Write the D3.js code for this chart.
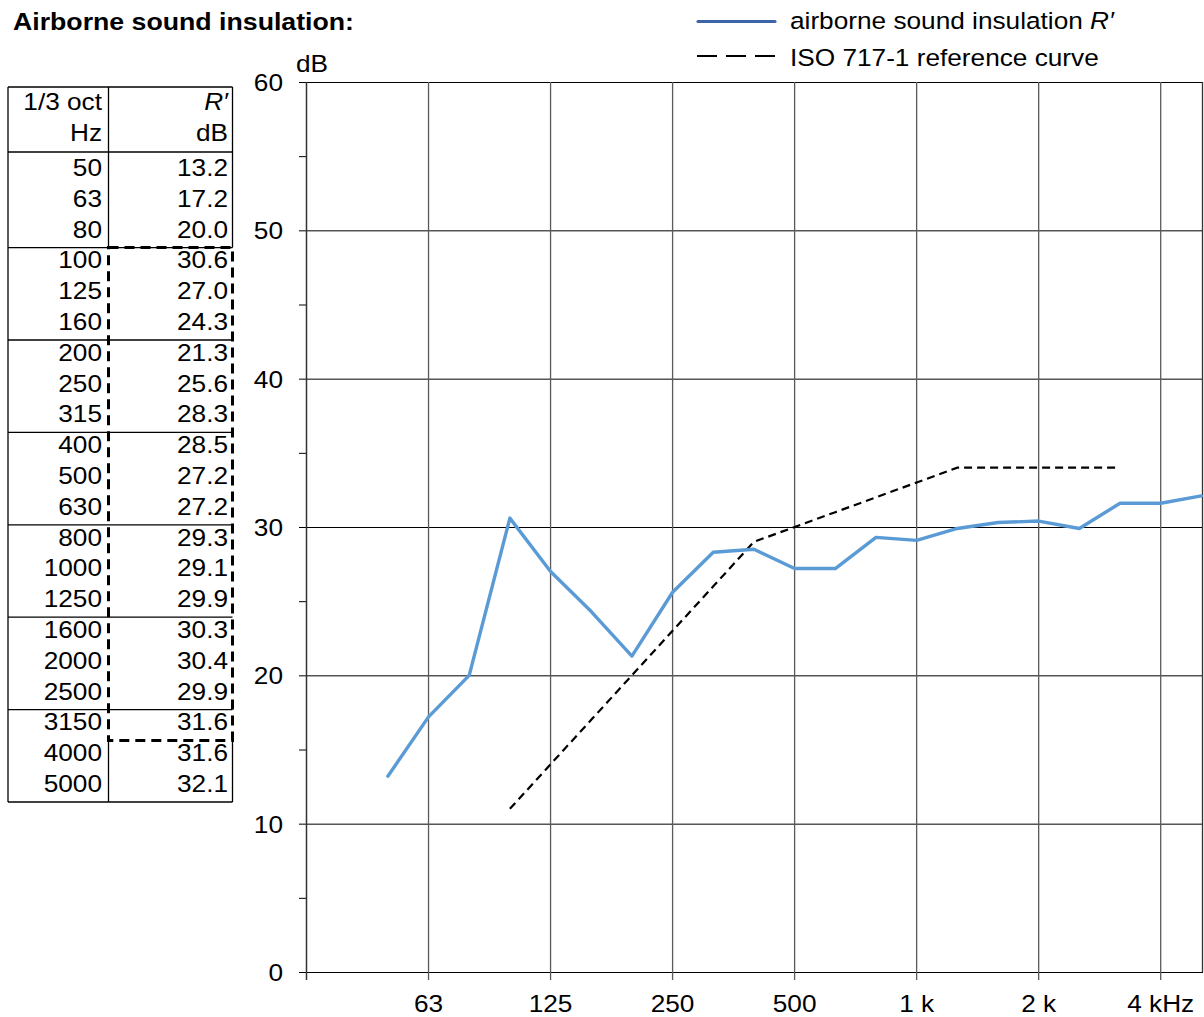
<!DOCTYPE html>
<html>
<head>
<meta charset="utf-8">
<script src="https://cdn.jsdelivr.net/npm/d3@7"></script>
<style>
  body { margin: 0; background: #fff; }
  svg { display: block; font-family: Arial, "Liberation Sans", sans-serif; }
</style>
</head>
<body>
<div id="chart"></div>
<script>
// 1/3 octave bands and measured values
var freqs = [50, 63, 80, 100, 125, 160, 200, 250, 315, 400, 500, 630, 800, 1000, 1250, 1600, 2000, 2500, 3150, 4000, 5000];
var rPrime = [13.2, 17.2, 20.0, 30.6, 27.0, 24.3, 21.3, 25.6, 28.3, 28.5, 27.2, 27.2, 29.3, 29.1, 29.9, 30.3, 30.4, 29.9, 31.6, 31.6, 32.1];

// shifted ISO 717-1 reference curve (100 Hz .. 3150 Hz)
var refFreqs = [100, 125, 160, 200, 250, 315, 400, 500, 630, 800, 1000, 1250, 1600, 2000, 2500, 3150];
var refValues = [11, 14, 17, 20, 23, 26, 29, 30, 31, 32, 33, 34, 34, 34, 34, 34];

// axis ticks
var xTickFreqs = [63, 125, 250, 500, 1000, 2000, 4000];
var xTickLabels = ['63', '125', '250', '500', '1 k', '2 k', '4 kHz'];
var yTicks = [0, 10, 20, 30, 40, 50, 60];
var yMinorTicks = [5, 15, 25, 35, 45, 55];

var width = 1204,
    height = 1017,
    fontSize = 24.5,
    sx = 1.07;   // text in the reference is a bit stretched horizontally

var svg = d3.select('#chart').append('svg')
    .attr('width', width)
    .attr('height', height);

// bands are equally spaced on the axis (3 per octave)
var bandIndex = function(f) { return freqs.indexOf(f); };
var x = d3.scaleLinear().domain([-2, 20.04]).range([306.5, 1203]);
var y = d3.scaleLinear().domain([0, 60]).range([972, 82]);

function label(g, txt, tx, ty, anchor, opts) {
    opts = opts || {};
    var t = g.append('text')
        .attr('transform', 'translate(' + tx + ',' + ty + ') scale(' + (opts.sx || sx) + ',1)')
        .attr('text-anchor', anchor)
        .attr('font-size', opts.size || fontSize)
        .attr('font-weight', opts.weight || 'normal')
        .attr('font-style', opts.style || 'normal')
        .attr('fill', '#000');
    if (typeof txt === 'string') t.text(txt);
    return t;
}

// title
label(svg, 'Airborne sound insulation:', 13, 30, 'start', {weight: 'bold', size: 24.5, sx: 1.09});

// ---- plot grid ----
var grid = svg.append('g');

grid.selectAll('.hgrid').data(yTicks).enter().append('line')
    .attr('x1', 299).attr('x2', 1203)
    .attr('y1', function(d) { return y(d) + 0.5; })
    .attr('y2', function(d) { return y(d) + 0.5; })
    .attr('stroke', '#000').attr('stroke-width', 1);

grid.selectAll('.minor').data(yMinorTicks).enter().append('line')
    .attr('x1', 299).attr('x2', 306)
    .attr('y1', function(d) { return y(d) + 0.5; })
    .attr('y2', function(d) { return y(d) + 0.5; })
    .attr('stroke', '#000').attr('stroke-width', 1);

grid.selectAll('.vgrid').data(xTickFreqs).enter().append('line')
    .attr('x1', function(d) { return x(bandIndex(d) < 0 ? 19 : bandIndex(d)); })
    .attr('x2', function(d) { return x(bandIndex(d) < 0 ? 19 : bandIndex(d)); })
    .attr('y1', y(60)).attr('y2', 980)
    .attr('stroke', '#5a5a5a').attr('stroke-width', 1.3);

// left axis line and right border
grid.append('line')
    .attr('x1', 306.5).attr('x2', 306.5)
    .attr('y1', y(60)).attr('y2', 980)
    .attr('stroke', '#333').attr('stroke-width', 1.5);
grid.append('line')
    .attr('x1', 1202.5).attr('x2', 1202.5)
    .attr('y1', y(60)).attr('y2', y(0))
    .attr('stroke', '#333').attr('stroke-width', 1.3);

// y labels
yTicks.forEach(function(d) {
    label(svg, String(d), 283, y(d) + 9, 'end');
});
label(svg, 'dB', 296, 72, 'start');

// x labels
xTickFreqs.forEach(function(f, i) {
    var idx = bandIndex(f) < 0 ? 19 : bandIndex(f);
    label(svg, xTickLabels[i], x(idx), 1012, 'middle');
});

// ---- curves ----
var refLine = d3.line()
    .x(function(d, i) { return x(bandIndex(refFreqs[i])); })
    .y(function(d) { return y(d); });

svg.append('path')
    .datum(refValues)
    .attr('d', refLine)
    .attr('fill', 'none')
    .attr('stroke', '#000')
    .attr('stroke-width', 2.2)
    .attr('stroke-dasharray', '8,5');

var rLine = d3.line()
    .x(function(d, i) { return x(i); })
    .y(function(d) { return y(d); });

svg.append('path')
    .datum(rPrime)
    .attr('d', rLine)
    .attr('fill', 'none')
    .attr('stroke', '#5b9bd5')
    .attr('stroke-width', 3.4)
    .attr('stroke-linejoin', 'round')
    .attr('stroke-linecap', 'round');

// ---- legend ----
var legend = svg.append('g');
legend.append('line')
    .attr('x1', 698).attr('x2', 775).attr('y1', 21.5).attr('y2', 21.5)
    .attr('stroke', '#3d64a8').attr('stroke-width', 3.2).attr('stroke-linecap', 'round');
var l1 = label(legend, null, 790, 29, 'start');
l1.append('tspan').text('airborne sound insulation ');
l1.append('tspan').attr('font-style', 'italic').text('R\u2032');

legend.append('line')
    .attr('x1', 697).attr('x2', 776).attr('y1', 56).attr('y2', 56)
    .attr('stroke', '#000').attr('stroke-width', 2).attr('stroke-dasharray', '20,9');
label(legend, 'ISO 717-1 reference curve', 790, 66, 'start');

// ---- value table ----
var table = svg.append('g');
var tLeft = 8, tMid = 108.5, tRight = 232.5, tTop = 87, headSep = 152;
var rowH = 30.8, firstBase = 176;
var rowBottom = function(i) { return firstBase + 10 + rowH * i; };
var tBottom = rowBottom(freqs.length - 1);
var boxTop = rowBottom(bandIndex(100) - 1),
    boxBottom = rowBottom(bandIndex(3150));

function hline(x1, x2, yy) {
    table.append('line').attr('x1', x1).attr('x2', x2).attr('y1', yy).attr('y2', yy)
        .attr('stroke', '#000').attr('stroke-width', 1.3);
}
function vline(xx, y1, y2) {
    table.append('line').attr('x1', xx).attr('x2', xx).attr('y1', y1).attr('y2', y2)
        .attr('stroke', '#000').attr('stroke-width', 1.3);
}

hline(tLeft, tRight, tTop);
hline(tLeft, tRight, headSep);
hline(tLeft, tRight, tBottom);
vline(tLeft, tTop, tBottom);
vline(tMid, tTop, boxTop);
vline(tMid, boxBottom, tBottom);
vline(tRight, tTop, boxTop);
vline(tRight, boxBottom, tBottom);

// group separators every three bands
[2, 5, 8, 11, 14, 17].forEach(function(i) {
    hline(tLeft, tRight, rowBottom(i));
});

// dashed evaluation box around 100..3150 Hz values
table.append('rect')
    .attr('x', tMid).attr('y', boxTop)
    .attr('width', tRight - tMid).attr('height', boxBottom - boxTop)
    .attr('fill', 'none')
    .attr('stroke', '#000').attr('stroke-width', 3)
    .attr('stroke-dasharray', '10,6');

label(table, '1/3 oct', 102, 110, 'end');
label(table, 'Hz', 102, 141, 'end');
label(table, 'R\u2032', 228, 110, 'end', {style: 'italic'});
label(table, 'dB', 228, 141, 'end');

freqs.forEach(function(f, i) {
    var base = firstBase + rowH * i;
    label(table, String(f), 102, base, 'end');
    label(table, rPrime[i].toFixed(1), 228, base, 'end');
});
</script>
</body>
</html>
